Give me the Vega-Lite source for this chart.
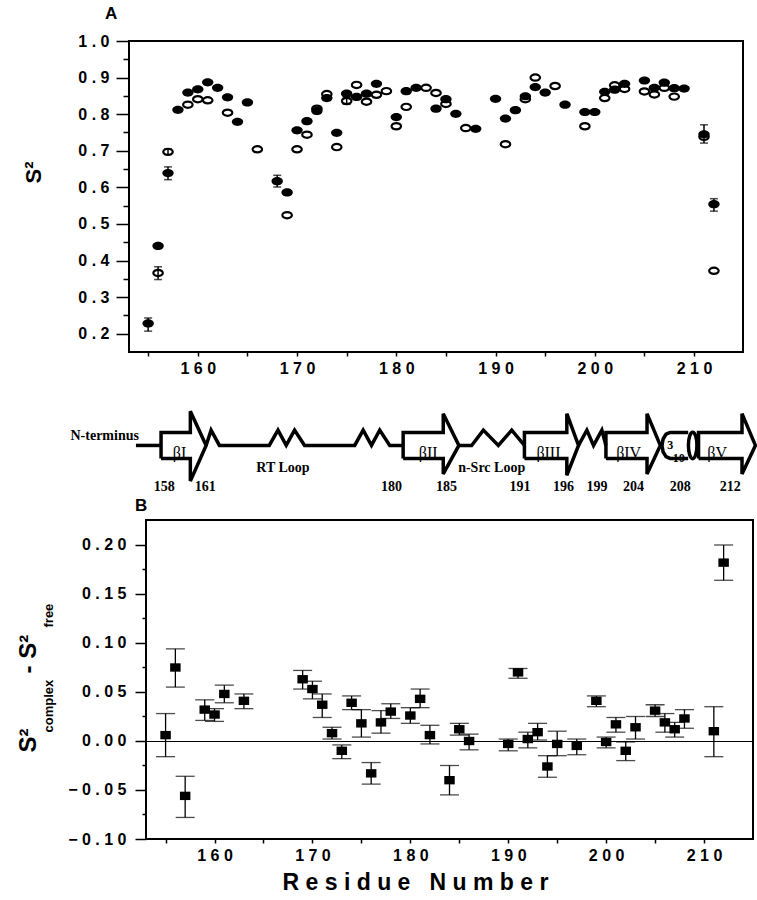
{
  "$schema": "https://vega.github.io/schema/vega-lite/v6.json",
  "background": "white",
  "padding": {"left": 15, "top": 4, "right": 0, "bottom": 0},
  "spacing": 0,
  "config": {
    "font": "Liberation Sans",
    "view": {"stroke": null},
    "axis": {
      "labelFont": "Liberation Sans", "labelFontWeight": "bold", "labelFontSize": 16, "labelColor": "black",
      "tickColor": "black", "tickWidth": 1.5, "domain": false, "grid": false,
      "titleColor": "black", "titleFont": "Liberation Sans", "titleFontWeight": "bold",
      "labelFlush": false, "labelOverlap": false, "labelBound": false
    }
  },
  "datasets": {
    "complex": [
      {"r":155,"s2":0.228},{"r":156,"s2":0.440},{"r":157,"s2":0.639},{"r":158,"s2":0.812},{"r":159,"s2":0.859},
      {"r":160,"s2":0.868},{"r":161,"s2":0.887},{"r":162,"s2":0.872},{"r":163,"s2":0.846},{"r":164,"s2":0.779},
      {"r":165,"s2":0.832},{"r":168,"s2":0.617},{"r":169,"s2":0.586},{"r":170,"s2":0.756},{"r":171,"s2":0.781},
      {"r":172,"s2":0.809},{"r":173,"s2":0.844},{"r":174,"s2":0.749},{"r":175,"s2":0.856},{"r":176,"s2":0.847},
      {"r":177,"s2":0.856},{"r":178,"s2":0.883},{"r":180,"s2":0.792},{"r":181,"s2":0.863},{"r":182,"s2":0.872},
      {"r":184,"s2":0.815},{"r":185,"s2":0.841},{"r":186,"s2":0.801},{"r":188,"s2":0.760},{"r":190,"s2":0.842},
      {"r":191,"s2":0.788},{"r":192,"s2":0.811},{"r":193,"s2":0.849},{"r":194,"s2":0.874},{"r":195,"s2":0.859},
      {"r":197,"s2":0.826},{"r":199,"s2":0.806},{"r":200,"s2":0.806},{"r":201,"s2":0.861},{"r":202,"s2":0.867},
      {"r":203,"s2":0.883},{"r":205,"s2":0.892},{"r":206,"s2":0.872},{"r":207,"s2":0.886},{"r":208,"s2":0.871},
      {"r":209,"s2":0.870},{"r":211,"s2":0.745},{"r":212,"s2":0.554}
    ],
    "free": [
      {"r":156,"s2":0.366},{"r":157,"s2":0.697},{"r":159,"s2":0.826},{"r":160,"s2":0.841},{"r":161,"s2":0.838},
      {"r":163,"s2":0.804},{"r":166,"s2":0.704},{"r":169,"s2":0.524},{"r":170,"s2":0.704},{"r":171,"s2":0.744},
      {"r":172,"s2":0.815},{"r":173,"s2":0.855},{"r":174,"s2":0.710},{"r":175,"s2":0.836},{"r":176,"s2":0.880},
      {"r":177,"s2":0.834},{"r":178,"s2":0.853},{"r":179,"s2":0.863},{"r":180,"s2":0.767},{"r":181,"s2":0.820},
      {"r":183,"s2":0.872},{"r":184,"s2":0.858},{"r":185,"s2":0.828},{"r":187,"s2":0.762},{"r":191,"s2":0.718},
      {"r":193,"s2":0.841},{"r":194,"s2":0.900},{"r":196,"s2":0.877},{"r":199,"s2":0.767},{"r":201,"s2":0.844},
      {"r":202,"s2":0.879},{"r":203,"s2":0.869},{"r":205,"s2":0.862},{"r":206,"s2":0.854},{"r":207,"s2":0.872},
      {"r":208,"s2":0.848},{"r":211,"s2":0.738},{"r":212,"s2":0.372}
    ],
    "a_err": [
      {"r":155,"lo":0.207,"hi":0.243},{"r":157,"lo":0.621,"hi":0.656},{"r":168,"lo":0.601,"hi":0.633},
      {"r":211,"lo":0.721,"hi":0.771},{"r":212,"lo":0.535,"hi":0.569},{"r":156,"lo":0.348,"hi":0.383},
      {"r":157,"lo":0.690,"hi":0.705},{"r":175,"lo":0.827,"hi":0.845}
    ],
    "diff": [
      {"r":155,"d":0.006,"lo":-0.016,"hi":0.028},{"r":156,"d":0.075,"lo":0.055,"hi":0.094},
      {"r":157,"d":-0.056,"lo":-0.078,"hi":-0.036},{"r":159,"d":0.032,"lo":0.021,"hi":0.042},
      {"r":160,"d":0.027,"lo":0.020,"hi":0.033},{"r":161,"d":0.048,"lo":0.039,"hi":0.057},
      {"r":163,"d":0.041,"lo":0.033,"hi":0.048},{"r":169,"d":0.063,"lo":0.053,"hi":0.072},
      {"r":170,"d":0.053,"lo":0.043,"hi":0.061},{"r":171,"d":0.037,"lo":0.024,"hi":0.048},
      {"r":172,"d":0.008,"lo":0.002,"hi":0.014},{"r":173,"d":-0.010,"lo":-0.018,"hi":-0.004},
      {"r":174,"d":0.039,"lo":0.032,"hi":0.046},{"r":175,"d":0.018,"lo":0.004,"hi":0.032},
      {"r":176,"d":-0.033,"lo":-0.044,"hi":-0.022},{"r":177,"d":0.019,"lo":0.008,"hi":0.031},
      {"r":178,"d":0.030,"lo":0.023,"hi":0.038},{"r":180,"d":0.026,"lo":0.018,"hi":0.034},
      {"r":181,"d":0.043,"lo":0.034,"hi":0.053},{"r":182,"d":0.006,"lo":-0.003,"hi":0.016},
      {"r":184,"d":-0.040,"lo":-0.055,"hi":-0.025},{"r":185,"d":0.012,"lo":0.006,"hi":0.018},
      {"r":186,"d":0.000,"lo":-0.009,"hi":0.007},{"r":190,"d":-0.003,"lo":-0.010,"hi":0.002},
      {"r":191,"d":0.070,"lo":0.064,"hi":0.074},{"r":192,"d":0.002,"lo":-0.007,"hi":0.009},
      {"r":193,"d":0.009,"lo":0.001,"hi":0.018},{"r":194,"d":-0.026,"lo":-0.037,"hi":-0.015},
      {"r":195,"d":-0.003,"lo":-0.015,"hi":0.010},{"r":197,"d":-0.005,"lo":-0.014,"hi":0.002},
      {"r":199,"d":0.041,"lo":0.035,"hi":0.046},{"r":200,"d":-0.001,"lo":-0.007,"hi":0.004},
      {"r":201,"d":0.017,"lo":0.009,"hi":0.024},{"r":202,"d":-0.010,"lo":-0.020,"hi":-0.001},
      {"r":203,"d":0.014,"lo":0.002,"hi":0.025},{"r":205,"d":0.031,"lo":0.025,"hi":0.037},
      {"r":206,"d":0.019,"lo":0.009,"hi":0.028},{"r":207,"d":0.012,"lo":0.004,"hi":0.019},
      {"r":208,"d":0.023,"lo":0.013,"hi":0.032},{"r":211,"d":0.010,"lo":-0.016,"hi":0.035},
      {"r":212,"d":0.182,"lo":0.164,"hi":0.200}
    ],
    "diagram": [
      {"shape":"nterm","i":0,"r":153.77,"u":0},{"shape":"nterm","i":1,"r":156.30,"u":0},
      {"shape":"b1","i":0,"r":156.30,"u":-1},{"shape":"b1","i":1,"r":159.25,"u":-1},{"shape":"b1","i":2,"r":159.25,"u":-2.75},
      {"shape":"b1","i":3,"r":160.84,"u":0},{"shape":"b1","i":4,"r":159.25,"u":2.64},{"shape":"b1","i":5,"r":159.25,"u":1},
      {"shape":"b1","i":6,"r":156.30,"u":1},{"shape":"b1","i":7,"r":156.30,"u":-1},
      {"shape":"loop1","i":0,"r":160.84,"u":0},{"shape":"loop1","i":1,"r":161.34,"u":1.18},{"shape":"loop1","i":2,"r":162.18,"u":0},
      {"shape":"loop1","i":3,"r":167.20,"u":0},{"shape":"loop1","i":4,"r":168.08,"u":1.18},{"shape":"loop1","i":5,"r":168.91,"u":0},
      {"shape":"loop1","i":6,"r":169.75,"u":1.18},{"shape":"loop1","i":7,"r":170.76,"u":0},{"shape":"loop1","i":8,"r":175.81,"u":0},
      {"shape":"loop1","i":9,"r":176.66,"u":1.18},{"shape":"loop1","i":10,"r":177.50,"u":0},{"shape":"loop1","i":11,"r":178.33,"u":1.18},
      {"shape":"loop1","i":12,"r":179.34,"u":0},{"shape":"loop1","i":13,"r":180.69,"u":0},
      {"shape":"b2","i":0,"r":180.69,"u":-1},{"shape":"b2","i":1,"r":184.73,"u":-1},{"shape":"b2","i":2,"r":184.73,"u":-2.2},
      {"shape":"b2","i":3,"r":186.31,"u":0},{"shape":"b2","i":4,"r":184.73,"u":2.45},{"shape":"b2","i":5,"r":184.73,"u":1},
      {"shape":"b2","i":6,"r":180.69,"u":1},{"shape":"b2","i":7,"r":180.69,"u":-1},
      {"shape":"loop2","i":0,"r":186.31,"u":0},{"shape":"loop2","i":1,"r":187.59,"u":0},{"shape":"loop2","i":2,"r":188.77,"u":1.18},
      {"shape":"loop2","i":3,"r":190.28,"u":0},{"shape":"loop2","i":4,"r":191.63,"u":1.18},{"shape":"loop2","i":5,"r":192.91,"u":0},
      {"shape":"b3","i":0,"r":192.91,"u":-1},{"shape":"b3","i":1,"r":197.18,"u":-1},{"shape":"b3","i":2,"r":197.18,"u":-2.3},
      {"shape":"b3","i":3,"r":198.36,"u":0},{"shape":"b3","i":4,"r":197.18,"u":2.45},{"shape":"b3","i":5,"r":197.18,"u":1},
      {"shape":"b3","i":6,"r":192.91,"u":1},{"shape":"b3","i":7,"r":192.91,"u":-1},
      {"shape":"loop3","i":0,"r":198.36,"u":0},{"shape":"loop3","i":1,"r":199.20,"u":1.18},{"shape":"loop3","i":2,"r":199.87,"u":0},
      {"shape":"loop3","i":3,"r":200.71,"u":1.18},{"shape":"loop3","i":4,"r":201.12,"u":0},
      {"shape":"b4","i":0,"r":201.12,"u":-1},{"shape":"b4","i":1,"r":205.26,"u":-1},{"shape":"b4","i":2,"r":205.26,"u":-2.2},
      {"shape":"b4","i":3,"r":206.60,"u":0},{"shape":"b4","i":4,"r":205.26,"u":2.45},{"shape":"b4","i":5,"r":205.26,"u":1},
      {"shape":"b4","i":6,"r":201.12,"u":1},{"shape":"b4","i":7,"r":201.12,"u":-1},
      {"shape":"helix","i":0,"r":209.41,"u":1},{"shape":"helix","i":1,"r":207.58,"u":1},{"shape":"helix","i":2,"r":207.175,"u":0.866},
      {"shape":"helix","i":3,"r":206.88,"u":0.5},{"shape":"helix","i":4,"r":206.77,"u":0},{"shape":"helix","i":5,"r":206.88,"u":-0.5},
      {"shape":"helix","i":6,"r":207.175,"u":-0.866},{"shape":"helix","i":7,"r":207.58,"u":-1},{"shape":"helix","i":8,"r":209.41,"u":-1},
      {"shape":"b5","i":0,"r":210.45,"u":-1},{"shape":"b5","i":1,"r":214.83,"u":-1},{"shape":"b5","i":2,"r":214.83,"u":-2.2},
      {"shape":"b5","i":3,"r":216.18,"u":0},{"shape":"b5","i":4,"r":214.83,"u":2.45},{"shape":"b5","i":5,"r":214.83,"u":1},
      {"shape":"b5","i":6,"r":210.45,"u":1},{"shape":"b5","i":7,"r":210.45,"u":-1}
    ],
    "helix_end": [{"r":209.86,"u":0}],
    "labels": [
      {"label":"N-terminus","r":154.07,"u":0.72,"kind":"nterm"},
      {"label":"βI","r":158.16,"u":-0.55,"kind":"strand"},
      {"label":"βII","r":183.22,"u":-0.55,"kind":"strand"},
      {"label":"βIII","r":195.33,"u":-0.55,"kind":"strand"},
      {"label":"βIV","r":203.41,"u":-0.55,"kind":"strand"},
      {"label":"βV","r":212.32,"u":-0.55,"kind":"strand"},
      {"label":"3","r":207.61,"u":0.05,"kind":"small"},
      {"label":"10","r":208.46,"u":-0.98,"kind":"small"},
      {"label":"RT Loop","r":168.58,"u":-1.75,"kind":"loop"},
      {"label":"n-Src Loop","r":189.61,"u":-1.75,"kind":"loop"},
      {"label":"158","r":156.63,"u":-3.23,"kind":"num"},
      {"label":"161","r":160.74,"u":-3.23,"kind":"num"},
      {"label":"180","r":179.51,"u":-3.23,"kind":"num"},
      {"label":"185","r":185.07,"u":-3.23,"kind":"num"},
      {"label":"191","r":192.47,"u":-3.23,"kind":"num"},
      {"label":"196","r":196.85,"u":-3.23,"kind":"num"},
      {"label":"199","r":200.21,"u":-3.23,"kind":"num"},
      {"label":"204","r":203.91,"u":-3.23,"kind":"num"},
      {"label":"208","r":208.60,"u":-3.23,"kind":"num"},
      {"label":"212","r":213.65,"u":-3.23,"kind":"num"}
    ]
  },
  "vconcat": [
    {
      "width": 614, "height": 311,
      "view": {"stroke": "black", "strokeWidth": 2},
      "title": {"text": "A", "anchor": "start", "frame": "group", "dx": -24, "offset": -3, "baseline": "alphabetic", "fontSize": 17, "font": "Liberation Sans", "fontWeight": "bold", "color": "black"},
      "encoding": {
        "x": {"field": "r", "type": "quantitative", "scale": {"domain": [153.07, 214.93], "nice": false, "zero": false},
          "axis": {"orient": "bottom", "values": [155,160,165,170,175,180,185,190,195,200,205,210], "tickSize": 4, "labelPadding": 4, "title": null,
            "labelExpr": "datum.value % 10 == 0 ? join(split(datum.label, ''), ' ') : ''"}}
      },
      "resolve": {"axis": {"y": "independent"}},
      "layer": [
        {
          "data": {"name": "a_err"},
          "mark": {"type": "rule", "color": "black", "strokeWidth": 1.5},
          "encoding": {
            "y": {"field": "lo", "type": "quantitative", "scale": {"domain": [0.15, 1.0], "nice": false, "zero": false},
              "axis": {"orient": "left", "values": [0.25,0.35,0.45,0.55,0.65,0.75,0.85,0.95], "labels": false, "tickSize": 6, "title": null}},
            "y2": {"field": "hi"}
          }
        },
        {
          "data": {"name": "a_err"},
          "mark": {"type": "tick", "orient": "horizontal", "color": "black", "size": 8, "thickness": 1.5},
          "encoding": {"y": {"field": "lo", "type": "quantitative", "scale": {"domain": [0.15, 1.0], "nice": false, "zero": false}, "axis": null}}
        },
        {
          "data": {"name": "a_err"},
          "mark": {"type": "tick", "orient": "horizontal", "color": "black", "size": 8, "thickness": 1.5},
          "encoding": {"y": {"field": "hi", "type": "quantitative", "scale": {"domain": [0.15, 1.0], "nice": false, "zero": false}, "axis": null}}
        },
        {
          "data": {"name": "complex"},
          "mark": {"type": "point", "shape": "M-1,0A1,0.72 0 1,1 1,0A1,0.72 0 1,1 -1,0Z", "size": 130, "filled": true, "fill": "black", "strokeWidth": 0, "opacity": 1},
          "encoding": {
            "y": {"field": "s2", "type": "quantitative", "scale": {"domain": [0.15, 1.0], "nice": false, "zero": false},
              "axis": {"orient": "left", "values": [0.2,0.3,0.4,0.5,0.6,0.7,0.8,0.9,1.0], "tickSize": 13, "labelPadding": 7,
                "labelExpr": "join(split(format(datum.value, '.1f'), ''), ' ')",
                "title": "S²", "titleFontSize": 22, "titleAngle": -90, "titleX": -89, "titleY": 131, "titleAlign": "center", "titleBaseline": "alphabetic"}}
          }
        },
        {
          "data": {"name": "free"},
          "mark": {"type": "point", "shape": "M-1,0A1,0.66 0 1,1 1,0A1,0.66 0 1,1 -1,0Z", "size": 90, "filled": false, "stroke": "black", "strokeWidth": 2.2, "opacity": 1},
          "encoding": {"y": {"field": "s2", "type": "quantitative", "scale": {"domain": [0.15, 1.0], "nice": false, "zero": false}, "axis": null}}
        }
      ]
    },
    {
      "width": 614, "height": 119,
      "encoding": {
        "x": {"field": "r", "type": "quantitative", "scale": {"domain": [153.07, 214.93], "nice": false, "zero": false}, "axis": null},
        "y": {"field": "u", "type": "quantitative", "scale": {"domain": [-3.9, 5.28], "nice": false, "zero": false}, "axis": null}
      },
      "layer": [
        {
          "data": {"name": "diagram"},
          "mark": {"type": "line", "color": "black", "strokeWidth": 3.5, "strokeJoin": "miter", "strokeCap": "butt"},
          "encoding": {"detail": {"field": "shape"}, "order": {"field": "i", "type": "quantitative"}}
        },
        {
          "data": {"name": "helix_end"},
          "mark": {"type": "point", "shape": "M0,-1A0.32,1 0 1,1 0,1A0.32,1 0 1,1 0,-1Z", "size": 702, "filled": true, "fill": "white", "stroke": "black", "strokeWidth": 3.5, "opacity": 1}
        },
        {
          "data": {"name": "labels"},
          "transform": [{"filter": "datum.kind == 'nterm'"}],
          "mark": {"type": "text", "align": "right", "baseline": "middle", "font": "Liberation Serif", "fontWeight": "bold", "fontSize": 14, "color": "black"},
          "encoding": {"text": {"field": "label"}}
        },
        {
          "data": {"name": "labels"},
          "transform": [{"filter": "datum.kind == 'strand'"}],
          "mark": {"type": "text", "align": "center", "baseline": "middle", "font": "Liberation Serif", "fontSize": 16, "color": "black"},
          "encoding": {"text": {"field": "label"}}
        },
        {
          "data": {"name": "labels"},
          "transform": [{"filter": "datum.kind == 'small'"}],
          "mark": {"type": "text", "align": "center", "baseline": "middle", "font": "Liberation Serif", "fontWeight": "bold", "fontSize": 12, "color": "black"},
          "encoding": {"text": {"field": "label"}}
        },
        {
          "data": {"name": "labels"},
          "transform": [{"filter": "datum.kind == 'loop' || datum.kind == 'num'"}],
          "mark": {"type": "text", "align": "center", "baseline": "middle", "font": "Liberation Serif", "fontWeight": "bold", "fontSize": 14, "color": "black"},
          "encoding": {"text": {"field": "label"}}
        }
      ]
    },
    {
      "spacing": 0,
      "bounds": "flush",
      "hconcat": [
        {
          "width": 17, "height": 10,
          "data": {"values": [{"a": 1}]},
          "mark": {"type": "point", "opacity": 0},
          "encoding": {}
        },
        {
          "width": 607, "height": 319,
          "view": {"stroke": "black", "strokeWidth": 2},
          "title": {"text": "B", "anchor": "start", "frame": "group", "dx": -11, "offset": -8, "baseline": "alphabetic", "fontSize": 17, "font": "Liberation Sans", "fontWeight": "bold", "color": "black"},
          "data": {"name": "diff"},
          "encoding": {
            "x": {"field": "r", "type": "quantitative", "scale": {"domain": [153.0, 215.0], "nice": false, "zero": false},
              "axis": {"orient": "bottom", "values": [155,160,165,170,175,180,185,190,195,200,205,210], "tickSize": 4, "labelPadding": 4,
                "labelExpr": "datum.value % 10 == 0 ? join(split(datum.label, ''), ' ') : ''",
                "title": "R e s i d u e \u00a0 N u m b e r", "titleFontSize": 23, "titlePadding": 8, "titleX": 269}}
          },
          "resolve": {"axis": {"y": "independent"}},
          "layer": [
            {
              "mark": {"type": "rule", "color": "black", "strokeWidth": 1.3},
              "encoding": {
                "y": {"field": "lo", "type": "quantitative", "scale": {"domain": [-0.1, 0.2255], "nice": false, "zero": false},
                  "axis": {"orient": "left", "values": [-0.075,-0.025,0.025,0.075,0.125,0.175], "labels": false, "tickSize": 4,
                    "title": "complex", "titleFontSize": 13, "titleAngle": -90, "titleX": -94, "titleY": 212, "titleAlign": "left", "titleBaseline": "alphabetic"}},
                "y2": {"field": "hi"}
              }
            },
            {
              "mark": {"type": "tick", "orient": "horizontal", "color": "black", "size": 19, "thickness": 1.3},
              "encoding": {
                "y": {"field": "lo", "type": "quantitative", "scale": {"domain": [-0.1, 0.2255], "nice": false, "zero": false},
                  "axis": {"orient": "left", "values": [0], "labels": false, "ticks": false,
                    "title": "- S²", "titleFontSize": 24, "titleAngle": -90, "titleX": -111, "titleY": 153, "titleAlign": "left", "titleBaseline": "alphabetic"}}
              }
            },
            {
              "mark": {"type": "tick", "orient": "horizontal", "color": "black", "size": 19, "thickness": 1.3},
              "encoding": {
                "y": {"field": "hi", "type": "quantitative", "scale": {"domain": [-0.1, 0.2255], "nice": false, "zero": false},
                  "axis": {"orient": "left", "values": [0], "labels": false, "ticks": false, "grid": true, "gridColor": "black", "gridWidth": 1, "gridOpacity": 1,
                    "title": "free", "titleFontSize": 13, "titleAngle": -90, "titleX": -94, "titleY": 107, "titleAlign": "left", "titleBaseline": "alphabetic"}}
              }
            },
            {
              "mark": {"type": "point", "shape": "M-1,-0.8H1V0.8H-1Z", "size": 110, "filled": true, "fill": "black", "strokeWidth": 0, "opacity": 1},
              "encoding": {
                "y": {"field": "d", "type": "quantitative", "scale": {"domain": [-0.1, 0.2255], "nice": false, "zero": false},
                  "axis": {"orient": "left", "values": [-0.1,-0.05,0,0.05,0.1,0.15,0.2], "tickSize": 11, "labelPadding": 9,
                    "labelExpr": "join(split(format(datum.value, '.2f'), ''), ' ')",
                    "title": "S²", "titleFontSize": 24, "titleAngle": -90, "titleX": -111, "titleY": 232, "titleAlign": "left", "titleBaseline": "alphabetic"}}
              }
            }
          ]
        }
      ]
    }
  ]
}
